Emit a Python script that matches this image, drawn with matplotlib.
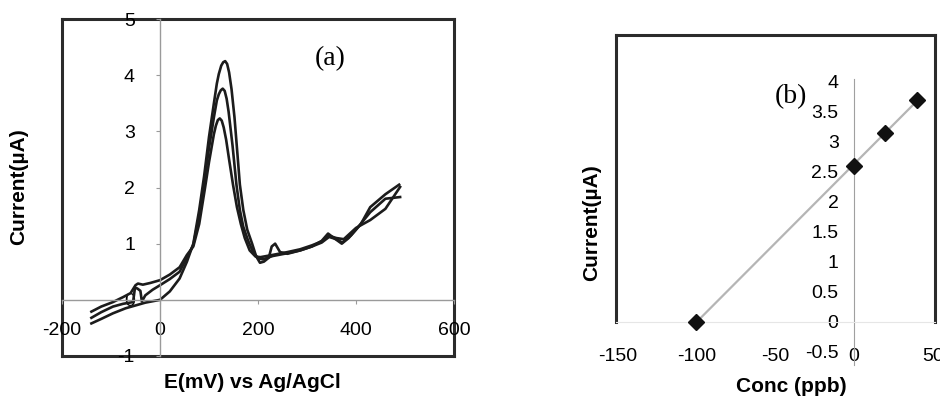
import matplotlib
matplotlib.use("Agg")
import matplotlib.pyplot as plt
import numpy as np

# ---- panel (a): voltammograms, E (mV) vs current (uA)
E_a = [-140, -120, -96, -70, -50, -30, 0, 20, 40, 55, 68, 80, 90, 100, 110, 116, 120, 125,
       129, 133, 137, 141, 146, 152, 158, 163, 170, 178, 188, 196, 204, 212, 222, 228, 235,
       245, 260, 286, 310, 330, 343, 355, 371, 385, 400, 429, 460, 490]
I_a = [-0.42, -0.34, -0.24, -0.15, -0.1, -0.05, 0.0, 0.15, 0.38, 0.68, 1.0, 1.6, 2.2, 2.9,
       3.5, 3.85, 4.02, 4.17, 4.23, 4.25, 4.2, 4.05, 3.75, 3.25, 2.6, 2.05, 1.6, 1.25, 1.0,
       0.78, 0.66, 0.68, 0.75, 0.95, 1.0, 0.85, 0.82, 0.88, 0.95, 1.05, 1.18, 1.1, 1.0, 1.1,
       1.25, 1.56, 1.8, 1.83]

E_b = [-140, -120, -96, -75, -55, -51, -46, -40, -37, -30, -15, 0, 20, 40, 55, 68, 80, 90,
       100, 110, 116, 120, 124, 128, 132, 136, 140, 148, 156, 163, 170, 180, 190, 200, 210,
       230, 260, 286, 310, 330, 345, 360, 372, 390, 410, 429, 460, 488]
I_b = [-0.32, -0.22, -0.12, -0.07, -0.04, 0.22, 0.2, 0.16, -0.03, 0.08, 0.18, 0.26, 0.37,
       0.5, 0.75, 0.98, 1.5, 2.1, 2.7, 3.25, 3.55, 3.66, 3.73, 3.76, 3.72, 3.58, 3.35, 2.75,
       2.05, 1.6, 1.3, 1.05, 0.85, 0.74, 0.72, 0.78, 0.83, 0.88, 0.95, 1.02, 1.12, 1.08,
       1.02, 1.15, 1.35, 1.65, 1.88, 2.05]

E_c = [-140, -120, -96, -75, -60, -50, -45, -35, -20, 0, 20, 40, 55, 68, 80, 92, 100, 110,
       114, 118, 122, 126, 130, 135, 141, 149, 157, 165, 173, 183, 195, 205, 230, 260, 286,
       310, 330, 345, 360, 375, 400, 429, 460, 490]
I_c = [-0.21, -0.12, -0.04, 0.05, 0.12, 0.26, 0.29, 0.27, 0.3, 0.35, 0.45, 0.58, 0.8, 0.95,
       1.35, 2.0, 2.45, 2.95, 3.1, 3.2, 3.23, 3.19, 3.07, 2.85, 2.5, 2.05, 1.65, 1.35, 1.1,
       0.88, 0.77, 0.76, 0.8, 0.85, 0.9, 0.97, 1.04, 1.14, 1.1, 1.08, 1.28, 1.42, 1.62, 2.01]

ticks_a_x = [-200, 0, 200, 400, 600]
ticks_a_y = [-1, 0, 1, 2, 3, 4, 5]

# ---- panel (b): calibration (standard addition)
conc = [-100, 0, 20, 40]
current = [0.0, 2.6, 3.15, 3.7]
ticks_b_x = [-150, -100, -50, 0, 50]
ticks_b_y = [-0.5, 0, 0.5, 1, 1.5, 2, 2.5, 3, 3.5, 4]

W, H = 940, 401
plt.rcParams['font.family'] = ['Liberation Sans', 'DejaVu Sans']
plt.rcParams['axes.unicode_minus'] = False

fig = plt.figure(figsize=(W / 100, H / 100), dpi=100)


def px_box(l, t, r, b):
    # pixel box -> figure fraction rect
    return [l / W, 1 - b / H, (r - l) / W, (b - t) / H]


def frame(rect, bottom=True):
    fa = fig.add_axes(rect, zorder=0)
    fa.set_xticks([])
    fa.set_yticks([])
    fa.patch.set_alpha(0)
    for s in fa.spines.values():
        s.set_color('#2b2b2b')
        s.set_linewidth(2.2)
    fa.spines['bottom'].set_visible(bottom)
    return fa


# panel (a)
frame(px_box(62, 19, 454, 356))
ax1 = fig.add_axes(px_box(62, 19, 454, 356), zorder=1)
ax1.patch.set_alpha(0)
for E, I in [(E_a, I_a), (E_b, I_b), (E_c, I_c)]:
    ax1.plot(E, I, color='#1c1c1c', lw=1.9, solid_joinstyle='round')
ax1.set_xlim(-200, 600)
ax1.set_ylim(-1, 5)
ax1.spines['left'].set_position(('data', 0))
ax1.spines['bottom'].set_position(('data', 0))
ax1.spines['top'].set_visible(False)
ax1.spines['right'].set_visible(False)
for s in ('left', 'bottom'):
    ax1.spines[s].set_color('#9a9a9a')
    ax1.spines[s].set_linewidth(1.0)
ax1.set_xticks(ticks_a_x)
ax1.set_yticks(ticks_a_y)
ax1.tick_params(axis='x', length=3, color='#9a9a9a', pad=13, labelsize=14)
ax1.tick_params(axis='y', length=3, color='#9a9a9a', pad=15, labelsize=14)
ax1.text(347, 4.3, '(a)', ha='center', va='center', fontsize=20,
         family='Liberation Serif', transform=ax1.transData)

# panel (b)
frame(px_box(616, 35, 935, 322), bottom=False)
ax2 = fig.add_axes(px_box(616, 35, 935, 365), zorder=1)
ax2.patch.set_alpha(0)
fit = np.polyfit(conc, current, 1)
xs = np.array([min(conc), max(conc)])
ax2.plot(xs, np.polyval(fit, xs), color='#b5b5b5', lw=1.6, zorder=2)
ax2.plot(conc, current, 'D', color='#111111', markersize=8, zorder=3)
ax2.set_xlim(-151, 51.5)
ax2.set_ylim(-0.72, 4.78)
ax2.spines['left'].set_position(('data', 0))
ax2.spines['left'].set_bounds(-0.72, 4.05)
ax2.spines['bottom'].set_position(('data', 0))
ax2.spines['top'].set_visible(False)
ax2.spines['right'].set_visible(False)
ax2.spines['left'].set_color('#a0a0a0')
ax2.spines['bottom'].set_color('#e6e6e6')
ax2.set_xticks(ticks_b_x)
ax2.set_yticks(ticks_b_y)
ax2.set_yticklabels(['-0.5', '0', '0.5', '1', '1.5', '2', '2.5', '3', '3.5', '4'])
ax2.tick_params(axis='x', length=0, pad=19, labelsize=14)
ax2.tick_params(axis='y', length=0, pad=11, labelsize=14)
ax2.text(-40, 3.75, '(b)', ha='center', va='center', fontsize=20,
         family='Liberation Serif')

# axis titles
fig.text(252 / W, 1 - 383 / H, 'E(mV) vs Ag/AgCl', ha='center', va='center',
         fontsize=15, fontweight='bold')
fig.text(19 / W, 1 - 187 / H, 'Current(\u00b5A)', ha='center', va='center',
         rotation=90, fontsize=15, fontweight='bold')
fig.text(791 / W, 1 - 387 / H, 'Conc (ppb)', ha='center', va='center',
         fontsize=15, fontweight='bold')
fig.text(592 / W, 1 - 223 / H, 'Current(\u00b5A)', ha='center', va='center',
         rotation=90, fontsize=15, fontweight='bold')

fig.savefig('out.png', dpi=100)
